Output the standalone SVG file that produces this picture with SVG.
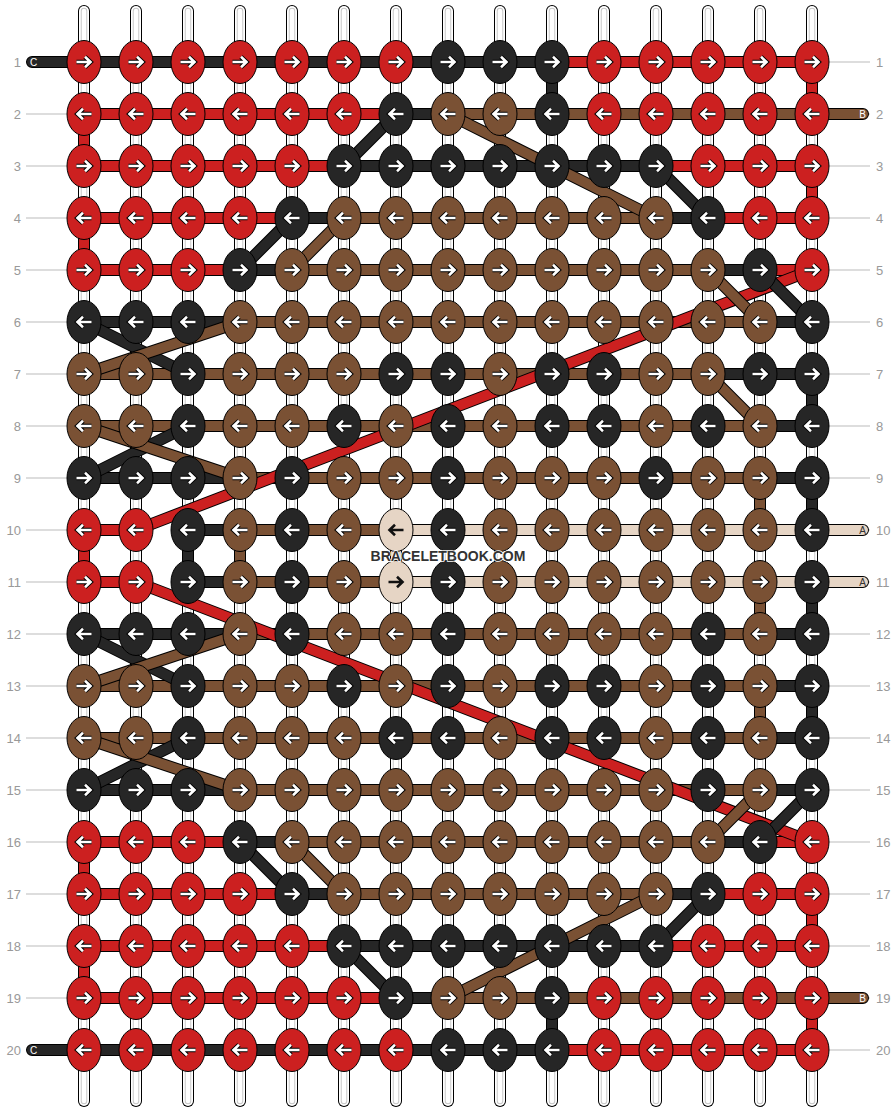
<svg xmlns="http://www.w3.org/2000/svg" xmlns:xlink="http://www.w3.org/1999/xlink" width="896" height="1112" viewBox="0 0 896 1112">
<style>
.R{fill:#cc2020}.D{fill:#262626}.B{fill:#7a5134}.A{fill:#e6d5c5}
ellipse{stroke:#000;stroke-width:1}
.o{fill:none;stroke:#000;stroke-width:12;stroke-linecap:round;stroke-linejoin:round}
.tr{fill:none;stroke:#cc2020;stroke-width:10;stroke-linecap:round;stroke-linejoin:round}
.tc{fill:none;stroke:#262626;stroke-width:10;stroke-linecap:round;stroke-linejoin:round}
.tb{fill:none;stroke:#7a5134;stroke-width:10;stroke-linecap:round;stroke-linejoin:round}
.ta{fill:none;stroke:#e6d5c5;stroke-width:10;stroke-linecap:round;stroke-linejoin:round}
.w0{stroke:#000;stroke-width:12;stroke-linecap:round}
.w1{stroke:#fff;stroke-width:10;stroke-linecap:round}
.w2{stroke:#c8c8c8;stroke-width:6.5;stroke-linecap:round}
.w3{stroke:#fff;stroke-width:4.5;stroke-linecap:round}
.ao{fill:none;stroke:#000;stroke-width:4.6}
.ai{fill:none;stroke:#fff;stroke-width:2.6}
.di{fill:none;stroke:#111;stroke-width:2.6}
.gl{stroke:#bbb;stroke-width:1}
.num{font-family:"Liberation Sans",Arial,sans-serif;font-size:13px;fill:#999}
.nl{text-anchor:end}
.tl{font-family:"Liberation Sans",Arial,sans-serif;font-size:10px;text-anchor:middle}
.wm{font-family:"Liberation Sans",Arial,sans-serif;font-size:14px;font-weight:bold;fill:#333;text-anchor:middle}
</style>
<defs>
<g id="ar"><path class="ao" d="M-7.5,0H6M1,-5.2L6.5,0L1,5.2"/><path class="ai" d="M-7.5,0H6M1,-5.2L6.5,0L1,5.2"/></g>
<g id="al"><use href="#ar" transform="scale(-1,1)"/></g>
<g id="dr"><path class="di" d="M-7.5,0H6M1,-5.2L6.5,0L1,5.2"/></g>
<g id="dl"><use href="#dr" transform="scale(-1,1)"/></g>
<g id="wp"><line class="w0" x1="0" y1="11" x2="0" y2="1101"/><line class="w1" x1="0" y1="11" x2="0" y2="1101"/><line class="w2" x1="0" y1="11" x2="0" y2="1101"/><line class="w3" x1="0" y1="11" x2="0" y2="1101"/></g>
</defs>
<rect width="896" height="1112" fill="#fff"/>
<g id="guides">
<path class="gl" d="M26,62H84M812,62H870M26,114H84M812,114H870M26,166H84M812,166H870M26,218H84M812,218H870M26,270H84M812,270H870M26,322H84M812,322H870M26,374H84M812,374H870M26,426H84M812,426H870M26,478H84M812,478H870M26,530H84M812,530H870M26,582H84M812,582H870M26,634H84M812,634H870M26,686H84M812,686H870M26,738H84M812,738H870M26,790H84M812,790H870M26,842H84M812,842H870M26,894H84M812,894H870M26,946H84M812,946H870M26,998H84M812,998H870M26,1050H84M812,1050H870"/>
</g>
<g id="warps">
<use href="#wp" x="84"/><use href="#wp" x="136"/><use href="#wp" x="188"/><use href="#wp" x="240"/><use href="#wp" x="292"/><use href="#wp" x="344"/><use href="#wp" x="396"/><use href="#wp" x="448"/><use href="#wp" x="500"/><use href="#wp" x="552"/><use href="#wp" x="604"/><use href="#wp" x="656"/><use href="#wp" x="708"/><use href="#wp" x="760"/><use href="#wp" x="812"/>
</g>
<g id="connectors">
<g id="red-straight"><path class="o" d="M84,62H812V114H84V166H812V218H84V270H812M136,530H84V582H136M812,842H84V894H812V946H84V998H812V1050H84"/><path class="tr" d="M84,62H812V114H84V166H812V218H84V270H812M136,530H84V582H136M812,842H84V894H812V946H84V998H812V1050H84"/></g>
<g id="c-straight"><path class="o" d="M32,62H552V114H396M344,166H656M708,218H292M240,270H760M812,322H84M188,374H812V426H188M84,478H812V530H188V582H812V634H84M188,686H812V738H188M84,790H812M760,842H240M292,894H708M656,946H344M396,998H552V1050H32"/><path class="tc" d="M32,62H552V114H396M344,166H656M708,218H292M240,270H760M812,322H84M188,374H812V426H188M84,478H812V530H188V582H812V634H84M188,686H812V738H188M84,790H812M760,842H240M292,894H708M656,946H344M396,998H552V1050H32"/></g>
<g id="b-straight"><path class="o" d="M863,114H448M656,218H344M292,270H708M760,322H240M84,374H708M760,426H84M240,478H760V530H240V582H760V634H240M84,686H760V738H84M240,790H760M708,842H292M344,894H656M448,998H863"/><path class="tb" d="M863,114H448M656,218H344M292,270H708M760,322H240M84,374H708M760,426H84M240,478H760V530H240V582H760V634H240M84,686H760V738H84M240,790H760M708,842H292M344,894H656M448,998H863"/></g>
<g id="a-straight"><path class="o" d="M863,530H396V582H863"/><path class="ta" d="M863,530H396V582H863"/></g>
<g id="red-diag"><path class="o" d="M812,270L136,530M136,582L812,842"/><path class="tr" d="M812,270L136,530M136,582L812,842"/></g>
<g id="c-diag"><path class="o" d="M396,114L344,166M656,166L708,218M292,218L240,270M760,270L812,322M84,322L188,374M188,426L84,478M84,634L188,686M188,738L84,790M812,790L760,842M240,842L292,894M708,894L656,946M344,946L396,998"/><path class="tc" d="M396,114L344,166M656,166L708,218M292,218L240,270M760,270L812,322M84,322L188,374M188,426L84,478M84,634L188,686M188,738L84,790M812,790L760,842M240,842L292,894M708,894L656,946M344,946L396,998"/></g>
<g id="b-diag"><path class="o" d="M448,114L656,218M344,218L292,270M708,270L760,322M240,322L84,374M708,374L760,426M84,426L240,478M240,634L84,686M84,738L240,790M760,790L708,842M292,842L344,894M656,894L448,998"/><path class="tb" d="M448,114L656,218M344,218L292,270M708,270L760,322M240,322L84,374M708,374L760,426M84,426L240,478M240,634L84,686M84,738L240,790M760,790L708,842M292,842L344,894M656,894L448,998"/></g>
</g>
<g id="tail-labels">
<text class="tl" x="33.5" y="66" fill="#fff">C</text>
<text class="tl" x="862.5" y="118" fill="#fff">B</text>
<text class="tl" x="862.5" y="534" fill="#333">A</text>
<text class="tl" x="862.5" y="586" fill="#333">A</text>
<text class="tl" x="862.5" y="1002" fill="#fff">B</text>
<text class="tl" x="33.5" y="1054" fill="#fff">C</text>
</g>
<g id="knots">
<g id="k1-1"><ellipse class="R" cx="84" cy="62" rx="17" ry="21.5"/><use href="#ar" x="84" y="62"/></g>
<g id="k1-2"><ellipse class="R" cx="136" cy="62" rx="17" ry="21.5"/><use href="#ar" x="136" y="62"/></g>
<g id="k1-3"><ellipse class="R" cx="188" cy="62" rx="17" ry="21.5"/><use href="#ar" x="188" y="62"/></g>
<g id="k1-4"><ellipse class="R" cx="240" cy="62" rx="17" ry="21.5"/><use href="#ar" x="240" y="62"/></g>
<g id="k1-5"><ellipse class="R" cx="292" cy="62" rx="17" ry="21.5"/><use href="#ar" x="292" y="62"/></g>
<g id="k1-6"><ellipse class="R" cx="344" cy="62" rx="17" ry="21.5"/><use href="#ar" x="344" y="62"/></g>
<g id="k1-7"><ellipse class="R" cx="396" cy="62" rx="17" ry="21.5"/><use href="#ar" x="396" y="62"/></g>
<g id="k1-8"><ellipse class="D" cx="448" cy="62" rx="17" ry="21.5"/><use href="#ar" x="448" y="62"/></g>
<g id="k1-9"><ellipse class="D" cx="500" cy="62" rx="17" ry="21.5"/><use href="#ar" x="500" y="62"/></g>
<g id="k1-10"><ellipse class="D" cx="552" cy="62" rx="17" ry="21.5"/><use href="#ar" x="552" y="62"/></g>
<g id="k1-11"><ellipse class="R" cx="604" cy="62" rx="17" ry="21.5"/><use href="#ar" x="604" y="62"/></g>
<g id="k1-12"><ellipse class="R" cx="656" cy="62" rx="17" ry="21.5"/><use href="#ar" x="656" y="62"/></g>
<g id="k1-13"><ellipse class="R" cx="708" cy="62" rx="17" ry="21.5"/><use href="#ar" x="708" y="62"/></g>
<g id="k1-14"><ellipse class="R" cx="760" cy="62" rx="17" ry="21.5"/><use href="#ar" x="760" y="62"/></g>
<g id="k1-15"><ellipse class="R" cx="812" cy="62" rx="17" ry="21.5"/><use href="#ar" x="812" y="62"/></g>
<g id="k2-1"><ellipse class="R" cx="84" cy="114" rx="17" ry="21.5"/><use href="#al" x="84" y="114"/></g>
<g id="k2-2"><ellipse class="R" cx="136" cy="114" rx="17" ry="21.5"/><use href="#al" x="136" y="114"/></g>
<g id="k2-3"><ellipse class="R" cx="188" cy="114" rx="17" ry="21.5"/><use href="#al" x="188" y="114"/></g>
<g id="k2-4"><ellipse class="R" cx="240" cy="114" rx="17" ry="21.5"/><use href="#al" x="240" y="114"/></g>
<g id="k2-5"><ellipse class="R" cx="292" cy="114" rx="17" ry="21.5"/><use href="#al" x="292" y="114"/></g>
<g id="k2-6"><ellipse class="R" cx="344" cy="114" rx="17" ry="21.5"/><use href="#al" x="344" y="114"/></g>
<g id="k2-7"><ellipse class="D" cx="396" cy="114" rx="17" ry="21.5"/><use href="#al" x="396" y="114"/></g>
<g id="k2-8"><ellipse class="B" cx="448" cy="114" rx="17" ry="21.5"/><use href="#al" x="448" y="114"/></g>
<g id="k2-9"><ellipse class="B" cx="500" cy="114" rx="17" ry="21.5"/><use href="#al" x="500" y="114"/></g>
<g id="k2-10"><ellipse class="D" cx="552" cy="114" rx="17" ry="21.5"/><use href="#al" x="552" y="114"/></g>
<g id="k2-11"><ellipse class="R" cx="604" cy="114" rx="17" ry="21.5"/><use href="#al" x="604" y="114"/></g>
<g id="k2-12"><ellipse class="R" cx="656" cy="114" rx="17" ry="21.5"/><use href="#al" x="656" y="114"/></g>
<g id="k2-13"><ellipse class="R" cx="708" cy="114" rx="17" ry="21.5"/><use href="#al" x="708" y="114"/></g>
<g id="k2-14"><ellipse class="R" cx="760" cy="114" rx="17" ry="21.5"/><use href="#al" x="760" y="114"/></g>
<g id="k2-15"><ellipse class="R" cx="812" cy="114" rx="17" ry="21.5"/><use href="#al" x="812" y="114"/></g>
<g id="k3-1"><ellipse class="R" cx="84" cy="166" rx="17" ry="21.5"/><use href="#ar" x="84" y="166"/></g>
<g id="k3-2"><ellipse class="R" cx="136" cy="166" rx="17" ry="21.5"/><use href="#ar" x="136" y="166"/></g>
<g id="k3-3"><ellipse class="R" cx="188" cy="166" rx="17" ry="21.5"/><use href="#ar" x="188" y="166"/></g>
<g id="k3-4"><ellipse class="R" cx="240" cy="166" rx="17" ry="21.5"/><use href="#ar" x="240" y="166"/></g>
<g id="k3-5"><ellipse class="R" cx="292" cy="166" rx="17" ry="21.5"/><use href="#ar" x="292" y="166"/></g>
<g id="k3-6"><ellipse class="D" cx="344" cy="166" rx="17" ry="21.5"/><use href="#ar" x="344" y="166"/></g>
<g id="k3-7"><ellipse class="D" cx="396" cy="166" rx="17" ry="21.5"/><use href="#ar" x="396" y="166"/></g>
<g id="k3-8"><ellipse class="D" cx="448" cy="166" rx="17" ry="21.5"/><use href="#ar" x="448" y="166"/></g>
<g id="k3-9"><ellipse class="D" cx="500" cy="166" rx="17" ry="21.5"/><use href="#ar" x="500" y="166"/></g>
<g id="k3-10"><ellipse class="D" cx="552" cy="166" rx="17" ry="21.5"/><use href="#ar" x="552" y="166"/></g>
<g id="k3-11"><ellipse class="D" cx="604" cy="166" rx="17" ry="21.5"/><use href="#ar" x="604" y="166"/></g>
<g id="k3-12"><ellipse class="D" cx="656" cy="166" rx="17" ry="21.5"/><use href="#ar" x="656" y="166"/></g>
<g id="k3-13"><ellipse class="R" cx="708" cy="166" rx="17" ry="21.5"/><use href="#ar" x="708" y="166"/></g>
<g id="k3-14"><ellipse class="R" cx="760" cy="166" rx="17" ry="21.5"/><use href="#ar" x="760" y="166"/></g>
<g id="k3-15"><ellipse class="R" cx="812" cy="166" rx="17" ry="21.5"/><use href="#ar" x="812" y="166"/></g>
<g id="k4-1"><ellipse class="R" cx="84" cy="218" rx="17" ry="21.5"/><use href="#al" x="84" y="218"/></g>
<g id="k4-2"><ellipse class="R" cx="136" cy="218" rx="17" ry="21.5"/><use href="#al" x="136" y="218"/></g>
<g id="k4-3"><ellipse class="R" cx="188" cy="218" rx="17" ry="21.5"/><use href="#al" x="188" y="218"/></g>
<g id="k4-4"><ellipse class="R" cx="240" cy="218" rx="17" ry="21.5"/><use href="#al" x="240" y="218"/></g>
<g id="k4-5"><ellipse class="D" cx="292" cy="218" rx="17" ry="21.5"/><use href="#al" x="292" y="218"/></g>
<g id="k4-6"><ellipse class="B" cx="344" cy="218" rx="17" ry="21.5"/><use href="#al" x="344" y="218"/></g>
<g id="k4-7"><ellipse class="B" cx="396" cy="218" rx="17" ry="21.5"/><use href="#al" x="396" y="218"/></g>
<g id="k4-8"><ellipse class="B" cx="448" cy="218" rx="17" ry="21.5"/><use href="#al" x="448" y="218"/></g>
<g id="k4-9"><ellipse class="B" cx="500" cy="218" rx="17" ry="21.5"/><use href="#al" x="500" y="218"/></g>
<g id="k4-10"><ellipse class="B" cx="552" cy="218" rx="17" ry="21.5"/><use href="#al" x="552" y="218"/></g>
<g id="k4-11"><ellipse class="B" cx="604" cy="218" rx="17" ry="21.5"/><use href="#al" x="604" y="218"/></g>
<g id="k4-12"><ellipse class="B" cx="656" cy="218" rx="17" ry="21.5"/><use href="#al" x="656" y="218"/></g>
<g id="k4-13"><ellipse class="D" cx="708" cy="218" rx="17" ry="21.5"/><use href="#al" x="708" y="218"/></g>
<g id="k4-14"><ellipse class="R" cx="760" cy="218" rx="17" ry="21.5"/><use href="#al" x="760" y="218"/></g>
<g id="k4-15"><ellipse class="R" cx="812" cy="218" rx="17" ry="21.5"/><use href="#al" x="812" y="218"/></g>
<g id="k5-1"><ellipse class="R" cx="84" cy="270" rx="17" ry="21.5"/><use href="#ar" x="84" y="270"/></g>
<g id="k5-2"><ellipse class="R" cx="136" cy="270" rx="17" ry="21.5"/><use href="#ar" x="136" y="270"/></g>
<g id="k5-3"><ellipse class="R" cx="188" cy="270" rx="17" ry="21.5"/><use href="#ar" x="188" y="270"/></g>
<g id="k5-4"><ellipse class="D" cx="240" cy="270" rx="17" ry="21.5"/><use href="#ar" x="240" y="270"/></g>
<g id="k5-5"><ellipse class="B" cx="292" cy="270" rx="17" ry="21.5"/><use href="#ar" x="292" y="270"/></g>
<g id="k5-6"><ellipse class="B" cx="344" cy="270" rx="17" ry="21.5"/><use href="#ar" x="344" y="270"/></g>
<g id="k5-7"><ellipse class="B" cx="396" cy="270" rx="17" ry="21.5"/><use href="#ar" x="396" y="270"/></g>
<g id="k5-8"><ellipse class="B" cx="448" cy="270" rx="17" ry="21.5"/><use href="#ar" x="448" y="270"/></g>
<g id="k5-9"><ellipse class="B" cx="500" cy="270" rx="17" ry="21.5"/><use href="#ar" x="500" y="270"/></g>
<g id="k5-10"><ellipse class="B" cx="552" cy="270" rx="17" ry="21.5"/><use href="#ar" x="552" y="270"/></g>
<g id="k5-11"><ellipse class="B" cx="604" cy="270" rx="17" ry="21.5"/><use href="#ar" x="604" y="270"/></g>
<g id="k5-12"><ellipse class="B" cx="656" cy="270" rx="17" ry="21.5"/><use href="#ar" x="656" y="270"/></g>
<g id="k5-13"><ellipse class="B" cx="708" cy="270" rx="17" ry="21.5"/><use href="#ar" x="708" y="270"/></g>
<g id="k5-14"><ellipse class="D" cx="760" cy="270" rx="17" ry="21.5"/><use href="#ar" x="760" y="270"/></g>
<g id="k5-15"><ellipse class="R" cx="812" cy="270" rx="17" ry="21.5"/><use href="#ar" x="812" y="270"/></g>
<g id="k6-1"><ellipse class="D" cx="84" cy="322" rx="17" ry="21.5"/><use href="#al" x="84" y="322"/></g>
<g id="k6-2"><ellipse class="D" cx="136" cy="322" rx="17" ry="21.5"/><use href="#al" x="136" y="322"/></g>
<g id="k6-3"><ellipse class="D" cx="188" cy="322" rx="17" ry="21.5"/><use href="#al" x="188" y="322"/></g>
<g id="k6-4"><ellipse class="B" cx="240" cy="322" rx="17" ry="21.5"/><use href="#al" x="240" y="322"/></g>
<g id="k6-5"><ellipse class="B" cx="292" cy="322" rx="17" ry="21.5"/><use href="#al" x="292" y="322"/></g>
<g id="k6-6"><ellipse class="B" cx="344" cy="322" rx="17" ry="21.5"/><use href="#al" x="344" y="322"/></g>
<g id="k6-7"><ellipse class="B" cx="396" cy="322" rx="17" ry="21.5"/><use href="#al" x="396" y="322"/></g>
<g id="k6-8"><ellipse class="B" cx="448" cy="322" rx="17" ry="21.5"/><use href="#al" x="448" y="322"/></g>
<g id="k6-9"><ellipse class="B" cx="500" cy="322" rx="17" ry="21.5"/><use href="#al" x="500" y="322"/></g>
<g id="k6-10"><ellipse class="B" cx="552" cy="322" rx="17" ry="21.5"/><use href="#al" x="552" y="322"/></g>
<g id="k6-11"><ellipse class="B" cx="604" cy="322" rx="17" ry="21.5"/><use href="#al" x="604" y="322"/></g>
<g id="k6-12"><ellipse class="B" cx="656" cy="322" rx="17" ry="21.5"/><use href="#al" x="656" y="322"/></g>
<g id="k6-13"><ellipse class="B" cx="708" cy="322" rx="17" ry="21.5"/><use href="#al" x="708" y="322"/></g>
<g id="k6-14"><ellipse class="B" cx="760" cy="322" rx="17" ry="21.5"/><use href="#al" x="760" y="322"/></g>
<g id="k6-15"><ellipse class="D" cx="812" cy="322" rx="17" ry="21.5"/><use href="#al" x="812" y="322"/></g>
<g id="k7-1"><ellipse class="B" cx="84" cy="374" rx="17" ry="21.5"/><use href="#ar" x="84" y="374"/></g>
<g id="k7-2"><ellipse class="B" cx="136" cy="374" rx="17" ry="21.5"/><use href="#ar" x="136" y="374"/></g>
<g id="k7-3"><ellipse class="D" cx="188" cy="374" rx="17" ry="21.5"/><use href="#ar" x="188" y="374"/></g>
<g id="k7-4"><ellipse class="B" cx="240" cy="374" rx="17" ry="21.5"/><use href="#ar" x="240" y="374"/></g>
<g id="k7-5"><ellipse class="B" cx="292" cy="374" rx="17" ry="21.5"/><use href="#ar" x="292" y="374"/></g>
<g id="k7-6"><ellipse class="B" cx="344" cy="374" rx="17" ry="21.5"/><use href="#ar" x="344" y="374"/></g>
<g id="k7-7"><ellipse class="D" cx="396" cy="374" rx="17" ry="21.5"/><use href="#ar" x="396" y="374"/></g>
<g id="k7-8"><ellipse class="D" cx="448" cy="374" rx="17" ry="21.5"/><use href="#ar" x="448" y="374"/></g>
<g id="k7-9"><ellipse class="B" cx="500" cy="374" rx="17" ry="21.5"/><use href="#ar" x="500" y="374"/></g>
<g id="k7-10"><ellipse class="D" cx="552" cy="374" rx="17" ry="21.5"/><use href="#ar" x="552" y="374"/></g>
<g id="k7-11"><ellipse class="D" cx="604" cy="374" rx="17" ry="21.5"/><use href="#ar" x="604" y="374"/></g>
<g id="k7-12"><ellipse class="B" cx="656" cy="374" rx="17" ry="21.5"/><use href="#ar" x="656" y="374"/></g>
<g id="k7-13"><ellipse class="B" cx="708" cy="374" rx="17" ry="21.5"/><use href="#ar" x="708" y="374"/></g>
<g id="k7-14"><ellipse class="D" cx="760" cy="374" rx="17" ry="21.5"/><use href="#ar" x="760" y="374"/></g>
<g id="k7-15"><ellipse class="D" cx="812" cy="374" rx="17" ry="21.5"/><use href="#ar" x="812" y="374"/></g>
<g id="k8-1"><ellipse class="B" cx="84" cy="426" rx="17" ry="21.5"/><use href="#al" x="84" y="426"/></g>
<g id="k8-2"><ellipse class="B" cx="136" cy="426" rx="17" ry="21.5"/><use href="#al" x="136" y="426"/></g>
<g id="k8-3"><ellipse class="D" cx="188" cy="426" rx="17" ry="21.5"/><use href="#al" x="188" y="426"/></g>
<g id="k8-4"><ellipse class="B" cx="240" cy="426" rx="17" ry="21.5"/><use href="#al" x="240" y="426"/></g>
<g id="k8-5"><ellipse class="B" cx="292" cy="426" rx="17" ry="21.5"/><use href="#al" x="292" y="426"/></g>
<g id="k8-6"><ellipse class="D" cx="344" cy="426" rx="17" ry="21.5"/><use href="#al" x="344" y="426"/></g>
<g id="k8-7"><ellipse class="B" cx="396" cy="426" rx="17" ry="21.5"/><use href="#al" x="396" y="426"/></g>
<g id="k8-8"><ellipse class="D" cx="448" cy="426" rx="17" ry="21.5"/><use href="#al" x="448" y="426"/></g>
<g id="k8-9"><ellipse class="B" cx="500" cy="426" rx="17" ry="21.5"/><use href="#al" x="500" y="426"/></g>
<g id="k8-10"><ellipse class="D" cx="552" cy="426" rx="17" ry="21.5"/><use href="#al" x="552" y="426"/></g>
<g id="k8-11"><ellipse class="D" cx="604" cy="426" rx="17" ry="21.5"/><use href="#al" x="604" y="426"/></g>
<g id="k8-12"><ellipse class="B" cx="656" cy="426" rx="17" ry="21.5"/><use href="#al" x="656" y="426"/></g>
<g id="k8-13"><ellipse class="D" cx="708" cy="426" rx="17" ry="21.5"/><use href="#al" x="708" y="426"/></g>
<g id="k8-14"><ellipse class="B" cx="760" cy="426" rx="17" ry="21.5"/><use href="#al" x="760" y="426"/></g>
<g id="k8-15"><ellipse class="D" cx="812" cy="426" rx="17" ry="21.5"/><use href="#al" x="812" y="426"/></g>
<g id="k9-1"><ellipse class="D" cx="84" cy="478" rx="17" ry="21.5"/><use href="#ar" x="84" y="478"/></g>
<g id="k9-2"><ellipse class="D" cx="136" cy="478" rx="17" ry="21.5"/><use href="#ar" x="136" y="478"/></g>
<g id="k9-3"><ellipse class="D" cx="188" cy="478" rx="17" ry="21.5"/><use href="#ar" x="188" y="478"/></g>
<g id="k9-4"><ellipse class="B" cx="240" cy="478" rx="17" ry="21.5"/><use href="#ar" x="240" y="478"/></g>
<g id="k9-5"><ellipse class="D" cx="292" cy="478" rx="17" ry="21.5"/><use href="#ar" x="292" y="478"/></g>
<g id="k9-6"><ellipse class="B" cx="344" cy="478" rx="17" ry="21.5"/><use href="#ar" x="344" y="478"/></g>
<g id="k9-7"><ellipse class="B" cx="396" cy="478" rx="17" ry="21.5"/><use href="#ar" x="396" y="478"/></g>
<g id="k9-8"><ellipse class="D" cx="448" cy="478" rx="17" ry="21.5"/><use href="#ar" x="448" y="478"/></g>
<g id="k9-9"><ellipse class="B" cx="500" cy="478" rx="17" ry="21.5"/><use href="#ar" x="500" y="478"/></g>
<g id="k9-10"><ellipse class="B" cx="552" cy="478" rx="17" ry="21.5"/><use href="#ar" x="552" y="478"/></g>
<g id="k9-11"><ellipse class="B" cx="604" cy="478" rx="17" ry="21.5"/><use href="#ar" x="604" y="478"/></g>
<g id="k9-12"><ellipse class="D" cx="656" cy="478" rx="17" ry="21.5"/><use href="#ar" x="656" y="478"/></g>
<g id="k9-13"><ellipse class="B" cx="708" cy="478" rx="17" ry="21.5"/><use href="#ar" x="708" y="478"/></g>
<g id="k9-14"><ellipse class="B" cx="760" cy="478" rx="17" ry="21.5"/><use href="#ar" x="760" y="478"/></g>
<g id="k9-15"><ellipse class="D" cx="812" cy="478" rx="17" ry="21.5"/><use href="#ar" x="812" y="478"/></g>
<g id="k10-1"><ellipse class="R" cx="84" cy="530" rx="17" ry="21.5"/><use href="#al" x="84" y="530"/></g>
<g id="k10-2"><ellipse class="R" cx="136" cy="530" rx="17" ry="21.5"/><use href="#al" x="136" y="530"/></g>
<g id="k10-3"><ellipse class="D" cx="188" cy="530" rx="17" ry="21.5"/><use href="#al" x="188" y="530"/></g>
<g id="k10-4"><ellipse class="B" cx="240" cy="530" rx="17" ry="21.5"/><use href="#al" x="240" y="530"/></g>
<g id="k10-5"><ellipse class="D" cx="292" cy="530" rx="17" ry="21.5"/><use href="#al" x="292" y="530"/></g>
<g id="k10-6"><ellipse class="B" cx="344" cy="530" rx="17" ry="21.5"/><use href="#al" x="344" y="530"/></g>
<g id="k10-7"><ellipse class="A" cx="396" cy="530" rx="17" ry="21.5"/><use href="#dl" x="396" y="530"/></g>
<g id="k10-8"><ellipse class="D" cx="448" cy="530" rx="17" ry="21.5"/><use href="#al" x="448" y="530"/></g>
<g id="k10-9"><ellipse class="B" cx="500" cy="530" rx="17" ry="21.5"/><use href="#al" x="500" y="530"/></g>
<g id="k10-10"><ellipse class="B" cx="552" cy="530" rx="17" ry="21.5"/><use href="#al" x="552" y="530"/></g>
<g id="k10-11"><ellipse class="B" cx="604" cy="530" rx="17" ry="21.5"/><use href="#al" x="604" y="530"/></g>
<g id="k10-12"><ellipse class="B" cx="656" cy="530" rx="17" ry="21.5"/><use href="#al" x="656" y="530"/></g>
<g id="k10-13"><ellipse class="B" cx="708" cy="530" rx="17" ry="21.5"/><use href="#al" x="708" y="530"/></g>
<g id="k10-14"><ellipse class="B" cx="760" cy="530" rx="17" ry="21.5"/><use href="#al" x="760" y="530"/></g>
<g id="k10-15"><ellipse class="D" cx="812" cy="530" rx="17" ry="21.5"/><use href="#al" x="812" y="530"/></g>
<g id="k11-1"><ellipse class="R" cx="84" cy="582" rx="17" ry="21.5"/><use href="#ar" x="84" y="582"/></g>
<g id="k11-2"><ellipse class="R" cx="136" cy="582" rx="17" ry="21.5"/><use href="#ar" x="136" y="582"/></g>
<g id="k11-3"><ellipse class="D" cx="188" cy="582" rx="17" ry="21.5"/><use href="#ar" x="188" y="582"/></g>
<g id="k11-4"><ellipse class="B" cx="240" cy="582" rx="17" ry="21.5"/><use href="#ar" x="240" y="582"/></g>
<g id="k11-5"><ellipse class="D" cx="292" cy="582" rx="17" ry="21.5"/><use href="#ar" x="292" y="582"/></g>
<g id="k11-6"><ellipse class="B" cx="344" cy="582" rx="17" ry="21.5"/><use href="#ar" x="344" y="582"/></g>
<g id="k11-7"><ellipse class="A" cx="396" cy="582" rx="17" ry="21.5"/><use href="#dr" x="396" y="582"/></g>
<g id="k11-8"><ellipse class="D" cx="448" cy="582" rx="17" ry="21.5"/><use href="#ar" x="448" y="582"/></g>
<g id="k11-9"><ellipse class="B" cx="500" cy="582" rx="17" ry="21.5"/><use href="#ar" x="500" y="582"/></g>
<g id="k11-10"><ellipse class="B" cx="552" cy="582" rx="17" ry="21.5"/><use href="#ar" x="552" y="582"/></g>
<g id="k11-11"><ellipse class="B" cx="604" cy="582" rx="17" ry="21.5"/><use href="#ar" x="604" y="582"/></g>
<g id="k11-12"><ellipse class="B" cx="656" cy="582" rx="17" ry="21.5"/><use href="#ar" x="656" y="582"/></g>
<g id="k11-13"><ellipse class="B" cx="708" cy="582" rx="17" ry="21.5"/><use href="#ar" x="708" y="582"/></g>
<g id="k11-14"><ellipse class="B" cx="760" cy="582" rx="17" ry="21.5"/><use href="#ar" x="760" y="582"/></g>
<g id="k11-15"><ellipse class="D" cx="812" cy="582" rx="17" ry="21.5"/><use href="#ar" x="812" y="582"/></g>
<g id="k12-1"><ellipse class="D" cx="84" cy="634" rx="17" ry="21.5"/><use href="#al" x="84" y="634"/></g>
<g id="k12-2"><ellipse class="D" cx="136" cy="634" rx="17" ry="21.5"/><use href="#al" x="136" y="634"/></g>
<g id="k12-3"><ellipse class="D" cx="188" cy="634" rx="17" ry="21.5"/><use href="#al" x="188" y="634"/></g>
<g id="k12-4"><ellipse class="B" cx="240" cy="634" rx="17" ry="21.5"/><use href="#al" x="240" y="634"/></g>
<g id="k12-5"><ellipse class="D" cx="292" cy="634" rx="17" ry="21.5"/><use href="#al" x="292" y="634"/></g>
<g id="k12-6"><ellipse class="B" cx="344" cy="634" rx="17" ry="21.5"/><use href="#al" x="344" y="634"/></g>
<g id="k12-7"><ellipse class="B" cx="396" cy="634" rx="17" ry="21.5"/><use href="#al" x="396" y="634"/></g>
<g id="k12-8"><ellipse class="D" cx="448" cy="634" rx="17" ry="21.5"/><use href="#al" x="448" y="634"/></g>
<g id="k12-9"><ellipse class="B" cx="500" cy="634" rx="17" ry="21.5"/><use href="#al" x="500" y="634"/></g>
<g id="k12-10"><ellipse class="B" cx="552" cy="634" rx="17" ry="21.5"/><use href="#al" x="552" y="634"/></g>
<g id="k12-11"><ellipse class="B" cx="604" cy="634" rx="17" ry="21.5"/><use href="#al" x="604" y="634"/></g>
<g id="k12-12"><ellipse class="B" cx="656" cy="634" rx="17" ry="21.5"/><use href="#al" x="656" y="634"/></g>
<g id="k12-13"><ellipse class="D" cx="708" cy="634" rx="17" ry="21.5"/><use href="#al" x="708" y="634"/></g>
<g id="k12-14"><ellipse class="B" cx="760" cy="634" rx="17" ry="21.5"/><use href="#al" x="760" y="634"/></g>
<g id="k12-15"><ellipse class="D" cx="812" cy="634" rx="17" ry="21.5"/><use href="#al" x="812" y="634"/></g>
<g id="k13-1"><ellipse class="B" cx="84" cy="686" rx="17" ry="21.5"/><use href="#ar" x="84" y="686"/></g>
<g id="k13-2"><ellipse class="B" cx="136" cy="686" rx="17" ry="21.5"/><use href="#ar" x="136" y="686"/></g>
<g id="k13-3"><ellipse class="D" cx="188" cy="686" rx="17" ry="21.5"/><use href="#ar" x="188" y="686"/></g>
<g id="k13-4"><ellipse class="B" cx="240" cy="686" rx="17" ry="21.5"/><use href="#ar" x="240" y="686"/></g>
<g id="k13-5"><ellipse class="B" cx="292" cy="686" rx="17" ry="21.5"/><use href="#ar" x="292" y="686"/></g>
<g id="k13-6"><ellipse class="D" cx="344" cy="686" rx="17" ry="21.5"/><use href="#ar" x="344" y="686"/></g>
<g id="k13-7"><ellipse class="B" cx="396" cy="686" rx="17" ry="21.5"/><use href="#ar" x="396" y="686"/></g>
<g id="k13-8"><ellipse class="D" cx="448" cy="686" rx="17" ry="21.5"/><use href="#ar" x="448" y="686"/></g>
<g id="k13-9"><ellipse class="B" cx="500" cy="686" rx="17" ry="21.5"/><use href="#ar" x="500" y="686"/></g>
<g id="k13-10"><ellipse class="D" cx="552" cy="686" rx="17" ry="21.5"/><use href="#ar" x="552" y="686"/></g>
<g id="k13-11"><ellipse class="D" cx="604" cy="686" rx="17" ry="21.5"/><use href="#ar" x="604" y="686"/></g>
<g id="k13-12"><ellipse class="B" cx="656" cy="686" rx="17" ry="21.5"/><use href="#ar" x="656" y="686"/></g>
<g id="k13-13"><ellipse class="D" cx="708" cy="686" rx="17" ry="21.5"/><use href="#ar" x="708" y="686"/></g>
<g id="k13-14"><ellipse class="B" cx="760" cy="686" rx="17" ry="21.5"/><use href="#ar" x="760" y="686"/></g>
<g id="k13-15"><ellipse class="D" cx="812" cy="686" rx="17" ry="21.5"/><use href="#ar" x="812" y="686"/></g>
<g id="k14-1"><ellipse class="B" cx="84" cy="738" rx="17" ry="21.5"/><use href="#al" x="84" y="738"/></g>
<g id="k14-2"><ellipse class="B" cx="136" cy="738" rx="17" ry="21.5"/><use href="#al" x="136" y="738"/></g>
<g id="k14-3"><ellipse class="D" cx="188" cy="738" rx="17" ry="21.5"/><use href="#al" x="188" y="738"/></g>
<g id="k14-4"><ellipse class="B" cx="240" cy="738" rx="17" ry="21.5"/><use href="#al" x="240" y="738"/></g>
<g id="k14-5"><ellipse class="B" cx="292" cy="738" rx="17" ry="21.5"/><use href="#al" x="292" y="738"/></g>
<g id="k14-6"><ellipse class="B" cx="344" cy="738" rx="17" ry="21.5"/><use href="#al" x="344" y="738"/></g>
<g id="k14-7"><ellipse class="D" cx="396" cy="738" rx="17" ry="21.5"/><use href="#al" x="396" y="738"/></g>
<g id="k14-8"><ellipse class="D" cx="448" cy="738" rx="17" ry="21.5"/><use href="#al" x="448" y="738"/></g>
<g id="k14-9"><ellipse class="B" cx="500" cy="738" rx="17" ry="21.5"/><use href="#al" x="500" y="738"/></g>
<g id="k14-10"><ellipse class="D" cx="552" cy="738" rx="17" ry="21.5"/><use href="#al" x="552" y="738"/></g>
<g id="k14-11"><ellipse class="D" cx="604" cy="738" rx="17" ry="21.5"/><use href="#al" x="604" y="738"/></g>
<g id="k14-12"><ellipse class="B" cx="656" cy="738" rx="17" ry="21.5"/><use href="#al" x="656" y="738"/></g>
<g id="k14-13"><ellipse class="D" cx="708" cy="738" rx="17" ry="21.5"/><use href="#al" x="708" y="738"/></g>
<g id="k14-14"><ellipse class="B" cx="760" cy="738" rx="17" ry="21.5"/><use href="#al" x="760" y="738"/></g>
<g id="k14-15"><ellipse class="D" cx="812" cy="738" rx="17" ry="21.5"/><use href="#al" x="812" y="738"/></g>
<g id="k15-1"><ellipse class="D" cx="84" cy="790" rx="17" ry="21.5"/><use href="#ar" x="84" y="790"/></g>
<g id="k15-2"><ellipse class="D" cx="136" cy="790" rx="17" ry="21.5"/><use href="#ar" x="136" y="790"/></g>
<g id="k15-3"><ellipse class="D" cx="188" cy="790" rx="17" ry="21.5"/><use href="#ar" x="188" y="790"/></g>
<g id="k15-4"><ellipse class="B" cx="240" cy="790" rx="17" ry="21.5"/><use href="#ar" x="240" y="790"/></g>
<g id="k15-5"><ellipse class="B" cx="292" cy="790" rx="17" ry="21.5"/><use href="#ar" x="292" y="790"/></g>
<g id="k15-6"><ellipse class="B" cx="344" cy="790" rx="17" ry="21.5"/><use href="#ar" x="344" y="790"/></g>
<g id="k15-7"><ellipse class="B" cx="396" cy="790" rx="17" ry="21.5"/><use href="#ar" x="396" y="790"/></g>
<g id="k15-8"><ellipse class="B" cx="448" cy="790" rx="17" ry="21.5"/><use href="#ar" x="448" y="790"/></g>
<g id="k15-9"><ellipse class="B" cx="500" cy="790" rx="17" ry="21.5"/><use href="#ar" x="500" y="790"/></g>
<g id="k15-10"><ellipse class="B" cx="552" cy="790" rx="17" ry="21.5"/><use href="#ar" x="552" y="790"/></g>
<g id="k15-11"><ellipse class="B" cx="604" cy="790" rx="17" ry="21.5"/><use href="#ar" x="604" y="790"/></g>
<g id="k15-12"><ellipse class="B" cx="656" cy="790" rx="17" ry="21.5"/><use href="#ar" x="656" y="790"/></g>
<g id="k15-13"><ellipse class="D" cx="708" cy="790" rx="17" ry="21.5"/><use href="#ar" x="708" y="790"/></g>
<g id="k15-14"><ellipse class="B" cx="760" cy="790" rx="17" ry="21.5"/><use href="#ar" x="760" y="790"/></g>
<g id="k15-15"><ellipse class="D" cx="812" cy="790" rx="17" ry="21.5"/><use href="#ar" x="812" y="790"/></g>
<g id="k16-1"><ellipse class="R" cx="84" cy="842" rx="17" ry="21.5"/><use href="#al" x="84" y="842"/></g>
<g id="k16-2"><ellipse class="R" cx="136" cy="842" rx="17" ry="21.5"/><use href="#al" x="136" y="842"/></g>
<g id="k16-3"><ellipse class="R" cx="188" cy="842" rx="17" ry="21.5"/><use href="#al" x="188" y="842"/></g>
<g id="k16-4"><ellipse class="D" cx="240" cy="842" rx="17" ry="21.5"/><use href="#al" x="240" y="842"/></g>
<g id="k16-5"><ellipse class="B" cx="292" cy="842" rx="17" ry="21.5"/><use href="#al" x="292" y="842"/></g>
<g id="k16-6"><ellipse class="B" cx="344" cy="842" rx="17" ry="21.5"/><use href="#al" x="344" y="842"/></g>
<g id="k16-7"><ellipse class="B" cx="396" cy="842" rx="17" ry="21.5"/><use href="#al" x="396" y="842"/></g>
<g id="k16-8"><ellipse class="B" cx="448" cy="842" rx="17" ry="21.5"/><use href="#al" x="448" y="842"/></g>
<g id="k16-9"><ellipse class="B" cx="500" cy="842" rx="17" ry="21.5"/><use href="#al" x="500" y="842"/></g>
<g id="k16-10"><ellipse class="B" cx="552" cy="842" rx="17" ry="21.5"/><use href="#al" x="552" y="842"/></g>
<g id="k16-11"><ellipse class="B" cx="604" cy="842" rx="17" ry="21.5"/><use href="#al" x="604" y="842"/></g>
<g id="k16-12"><ellipse class="B" cx="656" cy="842" rx="17" ry="21.5"/><use href="#al" x="656" y="842"/></g>
<g id="k16-13"><ellipse class="B" cx="708" cy="842" rx="17" ry="21.5"/><use href="#al" x="708" y="842"/></g>
<g id="k16-14"><ellipse class="D" cx="760" cy="842" rx="17" ry="21.5"/><use href="#al" x="760" y="842"/></g>
<g id="k16-15"><ellipse class="R" cx="812" cy="842" rx="17" ry="21.5"/><use href="#al" x="812" y="842"/></g>
<g id="k17-1"><ellipse class="R" cx="84" cy="894" rx="17" ry="21.5"/><use href="#ar" x="84" y="894"/></g>
<g id="k17-2"><ellipse class="R" cx="136" cy="894" rx="17" ry="21.5"/><use href="#ar" x="136" y="894"/></g>
<g id="k17-3"><ellipse class="R" cx="188" cy="894" rx="17" ry="21.5"/><use href="#ar" x="188" y="894"/></g>
<g id="k17-4"><ellipse class="R" cx="240" cy="894" rx="17" ry="21.5"/><use href="#ar" x="240" y="894"/></g>
<g id="k17-5"><ellipse class="D" cx="292" cy="894" rx="17" ry="21.5"/><use href="#ar" x="292" y="894"/></g>
<g id="k17-6"><ellipse class="B" cx="344" cy="894" rx="17" ry="21.5"/><use href="#ar" x="344" y="894"/></g>
<g id="k17-7"><ellipse class="B" cx="396" cy="894" rx="17" ry="21.5"/><use href="#ar" x="396" y="894"/></g>
<g id="k17-8"><ellipse class="B" cx="448" cy="894" rx="17" ry="21.5"/><use href="#ar" x="448" y="894"/></g>
<g id="k17-9"><ellipse class="B" cx="500" cy="894" rx="17" ry="21.5"/><use href="#ar" x="500" y="894"/></g>
<g id="k17-10"><ellipse class="B" cx="552" cy="894" rx="17" ry="21.5"/><use href="#ar" x="552" y="894"/></g>
<g id="k17-11"><ellipse class="B" cx="604" cy="894" rx="17" ry="21.5"/><use href="#ar" x="604" y="894"/></g>
<g id="k17-12"><ellipse class="B" cx="656" cy="894" rx="17" ry="21.5"/><use href="#ar" x="656" y="894"/></g>
<g id="k17-13"><ellipse class="D" cx="708" cy="894" rx="17" ry="21.5"/><use href="#ar" x="708" y="894"/></g>
<g id="k17-14"><ellipse class="R" cx="760" cy="894" rx="17" ry="21.5"/><use href="#ar" x="760" y="894"/></g>
<g id="k17-15"><ellipse class="R" cx="812" cy="894" rx="17" ry="21.5"/><use href="#ar" x="812" y="894"/></g>
<g id="k18-1"><ellipse class="R" cx="84" cy="946" rx="17" ry="21.5"/><use href="#al" x="84" y="946"/></g>
<g id="k18-2"><ellipse class="R" cx="136" cy="946" rx="17" ry="21.5"/><use href="#al" x="136" y="946"/></g>
<g id="k18-3"><ellipse class="R" cx="188" cy="946" rx="17" ry="21.5"/><use href="#al" x="188" y="946"/></g>
<g id="k18-4"><ellipse class="R" cx="240" cy="946" rx="17" ry="21.5"/><use href="#al" x="240" y="946"/></g>
<g id="k18-5"><ellipse class="R" cx="292" cy="946" rx="17" ry="21.5"/><use href="#al" x="292" y="946"/></g>
<g id="k18-6"><ellipse class="D" cx="344" cy="946" rx="17" ry="21.5"/><use href="#al" x="344" y="946"/></g>
<g id="k18-7"><ellipse class="D" cx="396" cy="946" rx="17" ry="21.5"/><use href="#al" x="396" y="946"/></g>
<g id="k18-8"><ellipse class="D" cx="448" cy="946" rx="17" ry="21.5"/><use href="#al" x="448" y="946"/></g>
<g id="k18-9"><ellipse class="D" cx="500" cy="946" rx="17" ry="21.5"/><use href="#al" x="500" y="946"/></g>
<g id="k18-10"><ellipse class="D" cx="552" cy="946" rx="17" ry="21.5"/><use href="#al" x="552" y="946"/></g>
<g id="k18-11"><ellipse class="D" cx="604" cy="946" rx="17" ry="21.5"/><use href="#al" x="604" y="946"/></g>
<g id="k18-12"><ellipse class="D" cx="656" cy="946" rx="17" ry="21.5"/><use href="#al" x="656" y="946"/></g>
<g id="k18-13"><ellipse class="R" cx="708" cy="946" rx="17" ry="21.5"/><use href="#al" x="708" y="946"/></g>
<g id="k18-14"><ellipse class="R" cx="760" cy="946" rx="17" ry="21.5"/><use href="#al" x="760" y="946"/></g>
<g id="k18-15"><ellipse class="R" cx="812" cy="946" rx="17" ry="21.5"/><use href="#al" x="812" y="946"/></g>
<g id="k19-1"><ellipse class="R" cx="84" cy="998" rx="17" ry="21.5"/><use href="#ar" x="84" y="998"/></g>
<g id="k19-2"><ellipse class="R" cx="136" cy="998" rx="17" ry="21.5"/><use href="#ar" x="136" y="998"/></g>
<g id="k19-3"><ellipse class="R" cx="188" cy="998" rx="17" ry="21.5"/><use href="#ar" x="188" y="998"/></g>
<g id="k19-4"><ellipse class="R" cx="240" cy="998" rx="17" ry="21.5"/><use href="#ar" x="240" y="998"/></g>
<g id="k19-5"><ellipse class="R" cx="292" cy="998" rx="17" ry="21.5"/><use href="#ar" x="292" y="998"/></g>
<g id="k19-6"><ellipse class="R" cx="344" cy="998" rx="17" ry="21.5"/><use href="#ar" x="344" y="998"/></g>
<g id="k19-7"><ellipse class="D" cx="396" cy="998" rx="17" ry="21.5"/><use href="#ar" x="396" y="998"/></g>
<g id="k19-8"><ellipse class="B" cx="448" cy="998" rx="17" ry="21.5"/><use href="#ar" x="448" y="998"/></g>
<g id="k19-9"><ellipse class="B" cx="500" cy="998" rx="17" ry="21.5"/><use href="#ar" x="500" y="998"/></g>
<g id="k19-10"><ellipse class="D" cx="552" cy="998" rx="17" ry="21.5"/><use href="#ar" x="552" y="998"/></g>
<g id="k19-11"><ellipse class="R" cx="604" cy="998" rx="17" ry="21.5"/><use href="#ar" x="604" y="998"/></g>
<g id="k19-12"><ellipse class="R" cx="656" cy="998" rx="17" ry="21.5"/><use href="#ar" x="656" y="998"/></g>
<g id="k19-13"><ellipse class="R" cx="708" cy="998" rx="17" ry="21.5"/><use href="#ar" x="708" y="998"/></g>
<g id="k19-14"><ellipse class="R" cx="760" cy="998" rx="17" ry="21.5"/><use href="#ar" x="760" y="998"/></g>
<g id="k19-15"><ellipse class="R" cx="812" cy="998" rx="17" ry="21.5"/><use href="#ar" x="812" y="998"/></g>
<g id="k20-1"><ellipse class="R" cx="84" cy="1050" rx="17" ry="21.5"/><use href="#al" x="84" y="1050"/></g>
<g id="k20-2"><ellipse class="R" cx="136" cy="1050" rx="17" ry="21.5"/><use href="#al" x="136" y="1050"/></g>
<g id="k20-3"><ellipse class="R" cx="188" cy="1050" rx="17" ry="21.5"/><use href="#al" x="188" y="1050"/></g>
<g id="k20-4"><ellipse class="R" cx="240" cy="1050" rx="17" ry="21.5"/><use href="#al" x="240" y="1050"/></g>
<g id="k20-5"><ellipse class="R" cx="292" cy="1050" rx="17" ry="21.5"/><use href="#al" x="292" y="1050"/></g>
<g id="k20-6"><ellipse class="R" cx="344" cy="1050" rx="17" ry="21.5"/><use href="#al" x="344" y="1050"/></g>
<g id="k20-7"><ellipse class="R" cx="396" cy="1050" rx="17" ry="21.5"/><use href="#al" x="396" y="1050"/></g>
<g id="k20-8"><ellipse class="D" cx="448" cy="1050" rx="17" ry="21.5"/><use href="#al" x="448" y="1050"/></g>
<g id="k20-9"><ellipse class="D" cx="500" cy="1050" rx="17" ry="21.5"/><use href="#al" x="500" y="1050"/></g>
<g id="k20-10"><ellipse class="D" cx="552" cy="1050" rx="17" ry="21.5"/><use href="#al" x="552" y="1050"/></g>
<g id="k20-11"><ellipse class="R" cx="604" cy="1050" rx="17" ry="21.5"/><use href="#al" x="604" y="1050"/></g>
<g id="k20-12"><ellipse class="R" cx="656" cy="1050" rx="17" ry="21.5"/><use href="#al" x="656" y="1050"/></g>
<g id="k20-13"><ellipse class="R" cx="708" cy="1050" rx="17" ry="21.5"/><use href="#al" x="708" y="1050"/></g>
<g id="k20-14"><ellipse class="R" cx="760" cy="1050" rx="17" ry="21.5"/><use href="#al" x="760" y="1050"/></g>
<g id="k20-15"><ellipse class="R" cx="812" cy="1050" rx="17" ry="21.5"/><use href="#al" x="812" y="1050"/></g>
</g>
<g id="row-numbers" class="num">
<text class="nl" x="21" y="66.5">1</text><text x="876" y="66.5">1</text>
<text class="nl" x="21" y="118.5">2</text><text x="876" y="118.5">2</text>
<text class="nl" x="21" y="170.5">3</text><text x="876" y="170.5">3</text>
<text class="nl" x="21" y="222.5">4</text><text x="876" y="222.5">4</text>
<text class="nl" x="21" y="274.5">5</text><text x="876" y="274.5">5</text>
<text class="nl" x="21" y="326.5">6</text><text x="876" y="326.5">6</text>
<text class="nl" x="21" y="378.5">7</text><text x="876" y="378.5">7</text>
<text class="nl" x="21" y="430.5">8</text><text x="876" y="430.5">8</text>
<text class="nl" x="21" y="482.5">9</text><text x="876" y="482.5">9</text>
<text class="nl" x="21" y="534.5">10</text><text x="876" y="534.5">10</text>
<text class="nl" x="21" y="586.5">11</text><text x="876" y="586.5">11</text>
<text class="nl" x="21" y="638.5">12</text><text x="876" y="638.5">12</text>
<text class="nl" x="21" y="690.5">13</text><text x="876" y="690.5">13</text>
<text class="nl" x="21" y="742.5">14</text><text x="876" y="742.5">14</text>
<text class="nl" x="21" y="794.5">15</text><text x="876" y="794.5">15</text>
<text class="nl" x="21" y="846.5">16</text><text x="876" y="846.5">16</text>
<text class="nl" x="21" y="898.5">17</text><text x="876" y="898.5">17</text>
<text class="nl" x="21" y="950.5">18</text><text x="876" y="950.5">18</text>
<text class="nl" x="21" y="1002.5">19</text><text x="876" y="1002.5">19</text>
<text class="nl" x="21" y="1054.5">20</text><text x="876" y="1054.5">20</text>
</g>
<text class="wm" x="448" y="561" stroke="#fff" stroke-width="1.5" paint-order="stroke">BRACELETBOOK.COM</text>
</svg>
